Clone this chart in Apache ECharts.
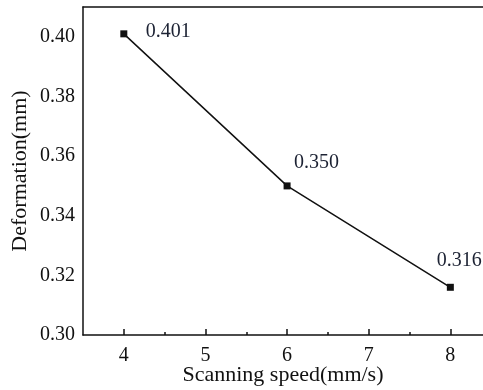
<!DOCTYPE html>
<html>
<head>
<meta charset="utf-8">
<script src="https://cdn.jsdelivr.net/npm/echarts@6/dist/echarts.min.js"></script>
<style>
  html, body { margin: 0; padding: 0; background: #fff; }
  #chart { width: 483px; height: 390px; }
</style>
</head>
<body>
<div id="chart"></div>
<script>
// scanning speed (mm/s) and deformation (mm)
const speeds = [4, 6, 8]
const deformation = [0.401, 0.350, 0.316]
const pointLabels = ['0.401', '0.350', '0.316']
const xTickValues = [4, 5, 6, 7, 8]
const xHalfTicks = [4.5, 5.5, 6.5, 7.5]

// where each value label sits relative to its marker
const labelOffsets = [[22, -2], [7, -23], [9, -27]]
const labelAligns = ['left', 'left', 'center']

const font = '"Liberation Serif", "DejaVu Serif", serif'
const ink = '#111'

const chart = echarts.init(document.getElementById('chart'))

const seriesData = speeds.map((s, i) => ({
  value: [s, deformation[i]],
  label: {
    show: true,
    position: 'inside',
    formatter: pointLabels[i],
    align: labelAligns[i],
    verticalAlign: 'middle',
    offset: labelOffsets[i]
  }
}))

const option = {
  animation: false,
  backgroundColor: '#fff',
  grid: { left: 83, right: 0, top: 7, bottom: 55, outerBoundsMode: 'none', containLabel: false },
  xAxis: [
    {
      type: 'value',
      position: 'bottom',
      min: 3.5,
      max: 8.4,
      interval: 0.5,
      name: 'Scanning speed(mm/s)',
      nameLocation: 'middle',
      nameGap: 29,
      nameMoveOverlap: false,
      nameTextStyle: { fontFamily: font, fontSize: 22, color: ink },
      axisLine: { lineStyle: { color: ink, width: 1.5 } },
      axisTick: { show: true, inside: true, length: 6, customValues: xTickValues, lineStyle: { color: ink, width: 1.5 } },
      axisLabel: { customValues: xTickValues, fontFamily: font, fontSize: 20, color: ink, margin: 11 },
      splitLine: { show: false }
    },
    {
      type: 'value',
      position: 'bottom',
      min: 3.5,
      max: 8.4,
      interval: 0.5,
      axisLine: { show: false },
      axisTick: { show: true, inside: true, length: 3, customValues: xHalfTicks, lineStyle: { color: ink, width: 1.5 } },
      axisLabel: { show: false },
      splitLine: { show: false }
    },
    {
      type: 'value',
      position: 'top',
      min: 3.5,
      max: 8.4,
      axisLine: { show: true, lineStyle: { color: ink, width: 1.5 } },
      axisTick: { show: false },
      axisLabel: { show: false },
      splitLine: { show: false }
    }
  ],
  yAxis: {
    type: 'value',
    min: 0.30,
    max: 0.41,
    interval: 0.02,
    name: 'Deformation(mm)',
    nameLocation: 'middle',
    nameGap: 52,
    nameMoveOverlap: false,
    nameTextStyle: { fontFamily: font, fontSize: 22, color: ink },
    axisLine: { show: true, lineStyle: { color: ink, width: 1.5 } },
    axisTick: { show: false },
    axisLabel: {
      fontFamily: font,
      fontSize: 20,
      color: ink,
      margin: 8,
      showMaxLabel: false,
      formatter: v => v.toFixed(2)
    },
    splitLine: { show: false }
  },
  series: [
    {
      type: 'line',
      xAxisIndex: 0,
      data: seriesData,
      symbol: 'rect',
      symbolSize: 7,
      lineStyle: { color: ink, width: 1.5 },
      itemStyle: { color: ink },
      label: { fontFamily: font, fontSize: 20, color: '#1c2233' }
    }
  ]
}

chart.setOption(option)
</script>
</body>
</html>
